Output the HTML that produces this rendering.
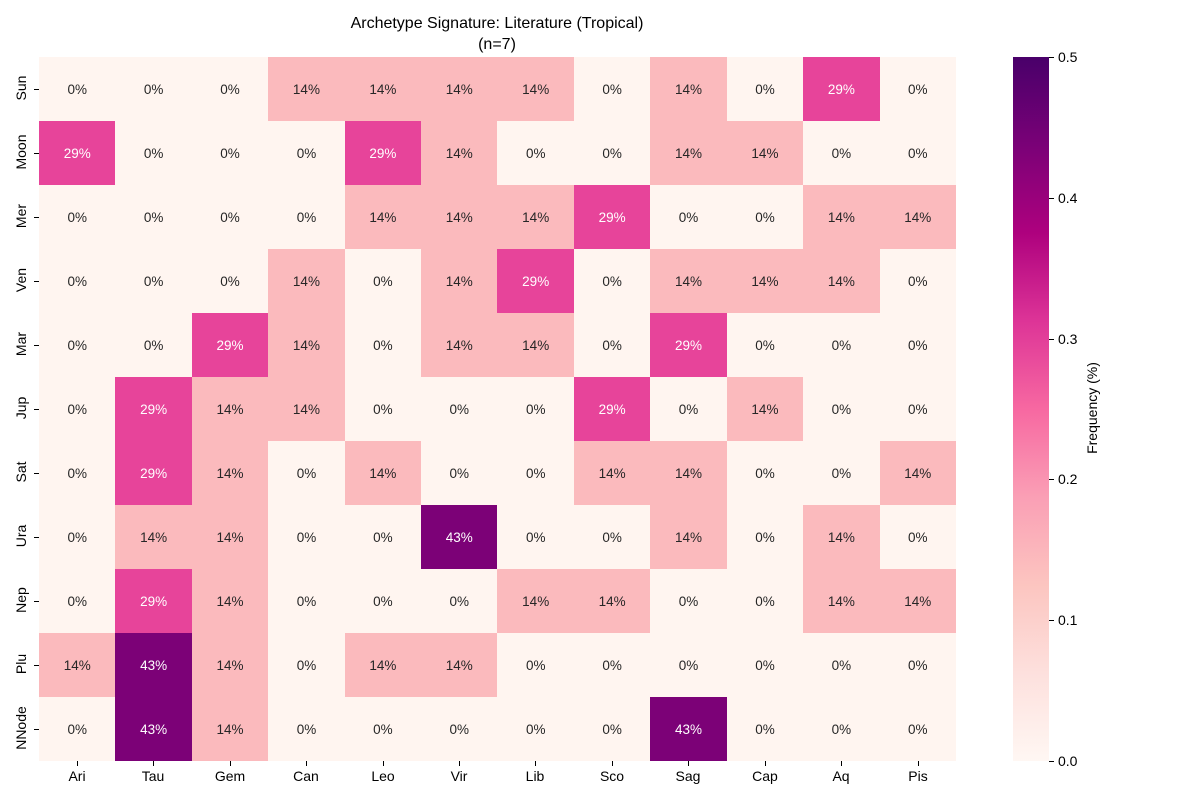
<!DOCTYPE html>
<html><head><meta charset="utf-8"><style>
body{margin:0;background:#fff;width:1200px;height:800px;position:relative;overflow:hidden;font-family:"Liberation Sans","DejaVu Sans",sans-serif;color:#000}
.grid{position:absolute;left:39px;top:57px;width:917px;height:704px;display:grid;grid-template-columns:repeat(12,1fr);grid-template-rows:repeat(11,64px)}
.grid i{font-style:normal;display:flex;align-items:center;justify-content:center;font-size:13.5px;color:#262626}
.z{background:#fff5f0}.a{background:#fbbabd}.b{background:#e7449a;color:#fff!important}.c{background:#7c0177;color:#fff!important}
.t{position:absolute;font-size:16px;width:600px;left:197px;text-align:center}
.yl{position:absolute;left:-4px;width:50px;font-size:14px;text-align:center;transform:rotate(-90deg);transform-origin:center}
.yt{position:absolute;left:34px;width:5px;height:1px;background:#000}
.xl{position:absolute;top:768px;width:76px;font-size:14px;text-align:center}
.xt{position:absolute;top:761px;width:1px;height:5px;background:#000}
.cb{position:absolute;left:1013px;top:57px;width:36px;height:704px;background:linear-gradient(to top,#fff7f3 0%,#fde0dd 12.5%,#fcc5c0 25%,#fa9fb5 37.5%,#f768a1 50%,#dd3497 62.5%,#ae017e 75%,#7a0177 87.5%,#49006a 100%)}
.ct{position:absolute;left:1049px;width:5px;height:1px;background:#000}
.cl{position:absolute;left:1058px;font-size:14px}
</style></head><body>
<div class="t" style="top:15px">Archetype Signature: Literature (Tropical)</div>
<div class="t" style="top:36px">(n=7)</div>
<div class="grid">
<i class=z>0%</i><i class=z>0%</i><i class=z>0%</i><i class=a>14%</i><i class=a>14%</i><i class=a>14%</i><i class=a>14%</i><i class=z>0%</i><i class=a>14%</i><i class=z>0%</i><i class=b>29%</i><i class=z>0%</i>
<i class=b>29%</i><i class=z>0%</i><i class=z>0%</i><i class=z>0%</i><i class=b>29%</i><i class=a>14%</i><i class=z>0%</i><i class=z>0%</i><i class=a>14%</i><i class=a>14%</i><i class=z>0%</i><i class=z>0%</i>
<i class=z>0%</i><i class=z>0%</i><i class=z>0%</i><i class=z>0%</i><i class=a>14%</i><i class=a>14%</i><i class=a>14%</i><i class=b>29%</i><i class=z>0%</i><i class=z>0%</i><i class=a>14%</i><i class=a>14%</i>
<i class=z>0%</i><i class=z>0%</i><i class=z>0%</i><i class=a>14%</i><i class=z>0%</i><i class=a>14%</i><i class=b>29%</i><i class=z>0%</i><i class=a>14%</i><i class=a>14%</i><i class=a>14%</i><i class=z>0%</i>
<i class=z>0%</i><i class=z>0%</i><i class=b>29%</i><i class=a>14%</i><i class=z>0%</i><i class=a>14%</i><i class=a>14%</i><i class=z>0%</i><i class=b>29%</i><i class=z>0%</i><i class=z>0%</i><i class=z>0%</i>
<i class=z>0%</i><i class=b>29%</i><i class=a>14%</i><i class=a>14%</i><i class=z>0%</i><i class=z>0%</i><i class=z>0%</i><i class=b>29%</i><i class=z>0%</i><i class=a>14%</i><i class=z>0%</i><i class=z>0%</i>
<i class=z>0%</i><i class=b>29%</i><i class=a>14%</i><i class=z>0%</i><i class=a>14%</i><i class=z>0%</i><i class=z>0%</i><i class=a>14%</i><i class=a>14%</i><i class=z>0%</i><i class=z>0%</i><i class=a>14%</i>
<i class=z>0%</i><i class=a>14%</i><i class=a>14%</i><i class=z>0%</i><i class=z>0%</i><i class=c>43%</i><i class=z>0%</i><i class=z>0%</i><i class=a>14%</i><i class=z>0%</i><i class=a>14%</i><i class=z>0%</i>
<i class=z>0%</i><i class=b>29%</i><i class=a>14%</i><i class=z>0%</i><i class=z>0%</i><i class=z>0%</i><i class=a>14%</i><i class=a>14%</i><i class=z>0%</i><i class=z>0%</i><i class=a>14%</i><i class=a>14%</i>
<i class=a>14%</i><i class=c>43%</i><i class=a>14%</i><i class=z>0%</i><i class=a>14%</i><i class=a>14%</i><i class=z>0%</i><i class=z>0%</i><i class=z>0%</i><i class=z>0%</i><i class=z>0%</i><i class=z>0%</i>
<i class=z>0%</i><i class=c>43%</i><i class=a>14%</i><i class=z>0%</i><i class=z>0%</i><i class=z>0%</i><i class=z>0%</i><i class=z>0%</i><i class=c>43%</i><i class=z>0%</i><i class=z>0%</i><i class=z>0%</i>
</div>
<div class="yl" style="top:80px">Sun</div><div class="yt" style="top:89px"></div>
<div class="yl" style="top:144px">Moon</div><div class="yt" style="top:153px"></div>
<div class="yl" style="top:208px">Mer</div><div class="yt" style="top:217px"></div>
<div class="yl" style="top:272px">Ven</div><div class="yt" style="top:281px"></div>
<div class="yl" style="top:336px">Mar</div><div class="yt" style="top:345px"></div>
<div class="yl" style="top:400px">Jup</div><div class="yt" style="top:409px"></div>
<div class="yl" style="top:464px">Sat</div><div class="yt" style="top:473px"></div>
<div class="yl" style="top:528px">Ura</div><div class="yt" style="top:537px"></div>
<div class="yl" style="top:592px">Nep</div><div class="yt" style="top:601px"></div>
<div class="yl" style="top:656px">Plu</div><div class="yt" style="top:665px"></div>
<div class="yl" style="top:720px">NNode</div><div class="yt" style="top:729px"></div>
<div class="xl" style="left:39px">Ari</div><div class="xt" style="left:77px"></div>
<div class="xl" style="left:115px">Tau</div><div class="xt" style="left:153px"></div>
<div class="xl" style="left:192px">Gem</div><div class="xt" style="left:230px"></div>
<div class="xl" style="left:268px">Can</div><div class="xt" style="left:306px"></div>
<div class="xl" style="left:345px">Leo</div><div class="xt" style="left:383px"></div>
<div class="xl" style="left:421px">Vir</div><div class="xt" style="left:459px"></div>
<div class="xl" style="left:497px">Lib</div><div class="xt" style="left:535px"></div>
<div class="xl" style="left:574px">Sco</div><div class="xt" style="left:612px"></div>
<div class="xl" style="left:650px">Sag</div><div class="xt" style="left:688px"></div>
<div class="xl" style="left:727px">Cap</div><div class="xt" style="left:765px"></div>
<div class="xl" style="left:803px">Aq</div><div class="xt" style="left:841px"></div>
<div class="xl" style="left:880px">Pis</div><div class="xt" style="left:918px"></div>
<div class="cb"></div>
<div class="ct" style="top:761px"></div><div class="cl" style="top:753px">0.0</div>
<div class="ct" style="top:620px"></div><div class="cl" style="top:612px">0.1</div>
<div class="ct" style="top:479px"></div><div class="cl" style="top:471px">0.2</div>
<div class="ct" style="top:339px"></div><div class="cl" style="top:331px">0.3</div>
<div class="ct" style="top:198px"></div><div class="cl" style="top:190px">0.4</div>
<div class="ct" style="top:57px"></div><div class="cl" style="top:49px">0.5</div>
<div style="position:absolute;left:1037px;top:400px;width:110px;font-size:14px;text-align:center;transform:rotate(-90deg)">Frequency (%)</div>
</body></html>
